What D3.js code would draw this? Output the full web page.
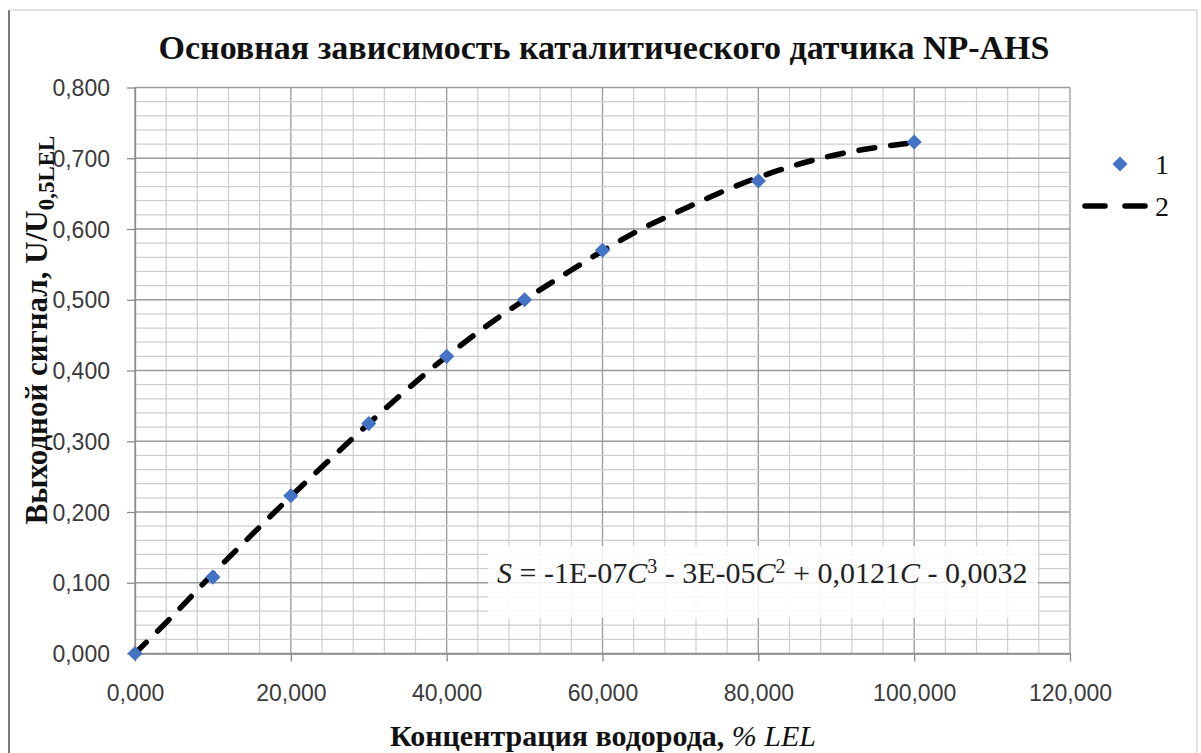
<!DOCTYPE html>
<html><head><meta charset="utf-8">
<script src="https://cdn.jsdelivr.net/npm/d3@7/dist/d3.min.js"></script>
<style>body{margin:0;background:#fff}svg{display:block}</style>
</head><body>
<svg id="c" width="1201" height="753"></svg>
<script>
// Data
const concentration = [0, 10, 20, 30, 40, 50, 60, 80, 100];
const signal = [0.000, 0.108, 0.223, 0.325, 0.420, 0.500, 0.570, 0.668, 0.723];
// Trendline
const trendX = [0, 5, 10, 15, 20, 25, 30, 35, 40, 45, 50, 55, 60, 65, 70, 75, 80, 85, 90, 95, 100];
const trendY = [0.000, 0.055, 0.113, 0.168, 0.222, 0.274, 0.325, 0.374, 0.420, 0.462, 0.500, 0.535, 0.569, 0.600, 0.626, 0.651, 0.673, 0.691, 0.705, 0.715, 0.722];
const xTicks = [0, 20, 40, 60, 80, 100, 120];
const yTicks = [0, 0.1, 0.2, 0.3, 0.4, 0.5, 0.6, 0.7, 0.8];
const legendLabels = ["1", "2"];
const titleText = "Основная зависимость каталитического датчика NP-AHS";

const svg = d3.select("#c");
const L = 135, R = 1070, T = 87.5, B = 653.5;
const x = d3.scaleLinear().domain([0, 120]).range([L, R]);
const y = d3.scaleLinear().domain([0, 0.8]).range([B, T]);
const fmt = v => d3.format(".3f")(v).replace(".", ",");
const serif = "'Liberation Serif','Times New Roman',serif";

// frame
svg.append("line").attr("x1",9).attr("x2",9).attr("y1",10).attr("y2",753).attr("stroke","#7a7a7a").attr("stroke-width",2);
svg.append("line").attr("x1",9).attr("x2",1197).attr("y1",10).attr("y2",10).attr("stroke","#d9d9d9").attr("stroke-width",1.5);
svg.append("line").attr("x1",1197).attr("x2",1197).attr("y1",10).attr("y2",753).attr("stroke","#d9d9d9").attr("stroke-width",1.5);

// grid
const g = svg.append("g");
g.selectAll(".vx").data(d3.range(0, 121, 4)).join("line")
  .attr("x1", d=>x(d)).attr("x2", d=>x(d)).attr("y1", T).attr("y2", B)
  .attr("stroke", d => d%20===0 ? "#9a9a9a" : "#cfcfcf").attr("stroke-width", d=> d%20===0?1.3:1.2);
g.selectAll(".hy").data(d3.range(0, 41, 1).map(i=>i*0.02)).join("line")
  .attr("x1", L).attr("x2", R).attr("y1", d=>y(d)).attr("y2", d=>y(d))
  .attr("stroke", (d,i) => i%5===0 ? "#9a9a9a" : "#cfcfcf").attr("stroke-width", (d,i)=> i%5===0?1.3:1.2);

// axes
const xAxis = d3.axisBottom(x).tickValues(xTicks).tickFormat(fmt).tickSize(8).tickSizeOuter(0);
const yAxis = d3.axisLeft(y).tickValues(yTicks).tickFormat(fmt).tickSize(8).tickSizeOuter(0);
const gx = svg.append("g").attr("transform",`translate(0,${B})`).call(xAxis);
const gy = svg.append("g").attr("transform",`translate(${L},0)`).call(yAxis);
[gx, gy].forEach(a => {
  a.select(".domain").attr("stroke","#8a8a8a").attr("stroke-width",1.3);
  a.selectAll(".tick line").attr("stroke","#8a8a8a").attr("stroke-width",1.3);
  a.selectAll("text").attr("font-family","'Liberation Sans', Arial, sans-serif").attr("font-size",23).attr("fill","#3a3a3a");
});
gx.selectAll("text").attr("dy", null).attr("y", 47);
gy.selectAll("text").attr("x", -25).attr("dy","0.35em");

// equation box
svg.append("rect").attr("x",488).attr("y",546).attr("width",550).attr("height",72).attr("fill","#fff").attr("opacity",0.85);
const eq = svg.append("text").attr("x",497).attr("y",583)
  .attr("font-family",serif).attr("font-size",30).attr("fill","#222");
const parts = [["S","i"],[" = -1E-07",""],["C","i"],["3","s"],[" - 3E-05",""],["C","i"],["2","s"],[" + 0,0121",""],["C","i"],[" - 0,0032",""]];
parts.forEach((p, k) => {
  const t = eq.append("tspan").text(p[0]);
  if (p[1]==="i") t.attr("font-style","italic");
  if (p[1]==="s") t.attr("font-size",20).attr("dy",-10);
  if (k>0 && parts[k-1][1]==="s") t.attr("dy",10);
});

// trendline
const line = d3.line().x((d,i)=>x(trendX[i])).y(d=>y(d)).curve(d3.curveCatmullRom);
svg.append("path").attr("d", line(trendY)).attr("fill","none").attr("stroke","#000")
  .attr("stroke-width",5.5).attr("stroke-dasharray","16,16").attr("stroke-linecap","round");

// points
const sym = d3.symbol().type(d3.symbolSquare).size(115);
svg.selectAll(".pt").data(concentration).join("path")
  .attr("d", sym).attr("fill","#4472C4")
  .attr("transform",(d,i)=>`translate(${x(d)},${y(signal[i])}) rotate(45)`);

// title
svg.append("text").attr("x",604).attr("y",59).attr("text-anchor","middle")
  .attr("font-family",serif).attr("font-weight","bold").attr("font-size",34).attr("fill","#111").text(titleText);

// x label
const xl = svg.append("text").attr("x",603).attr("y",746).attr("text-anchor","middle")
  .attr("font-family",serif).attr("font-weight","bold").attr("font-size",30).attr("fill","#111");
xl.append("tspan").text("Концентрация водорода, ");
xl.append("tspan").attr("font-style","italic").attr("font-weight","normal").text("% LEL");

// y label
const yl = svg.append("text").attr("transform","translate(47,330) rotate(-90)").attr("text-anchor","middle")
  .attr("font-family",serif).attr("font-weight","bold").attr("font-size",31).attr("fill","#111");
yl.append("tspan").text("Выходной сигнал, U/U");
yl.append("tspan").attr("font-size",23).attr("dy",7).text("0,5LEL");

// legend
const lg = svg.append("g");
lg.append("path").attr("d", sym).attr("fill","#4472C4").attr("transform","translate(1120,164) rotate(45)");
lg.append("line").attr("x1",1085).attr("x2",1148).attr("y1",206).attr("y2",206).attr("stroke","#000")
  .attr("stroke-width",5.5).attr("stroke-dasharray","20,20").attr("stroke-linecap","round");
lg.selectAll(".lt").data(legendLabels).join("text").attr("x",1155).attr("y",(d,i)=>174+i*42)
  .attr("font-family",serif).attr("font-size",28).attr("fill","#111").text(d=>d);
</script>
</body></html>
